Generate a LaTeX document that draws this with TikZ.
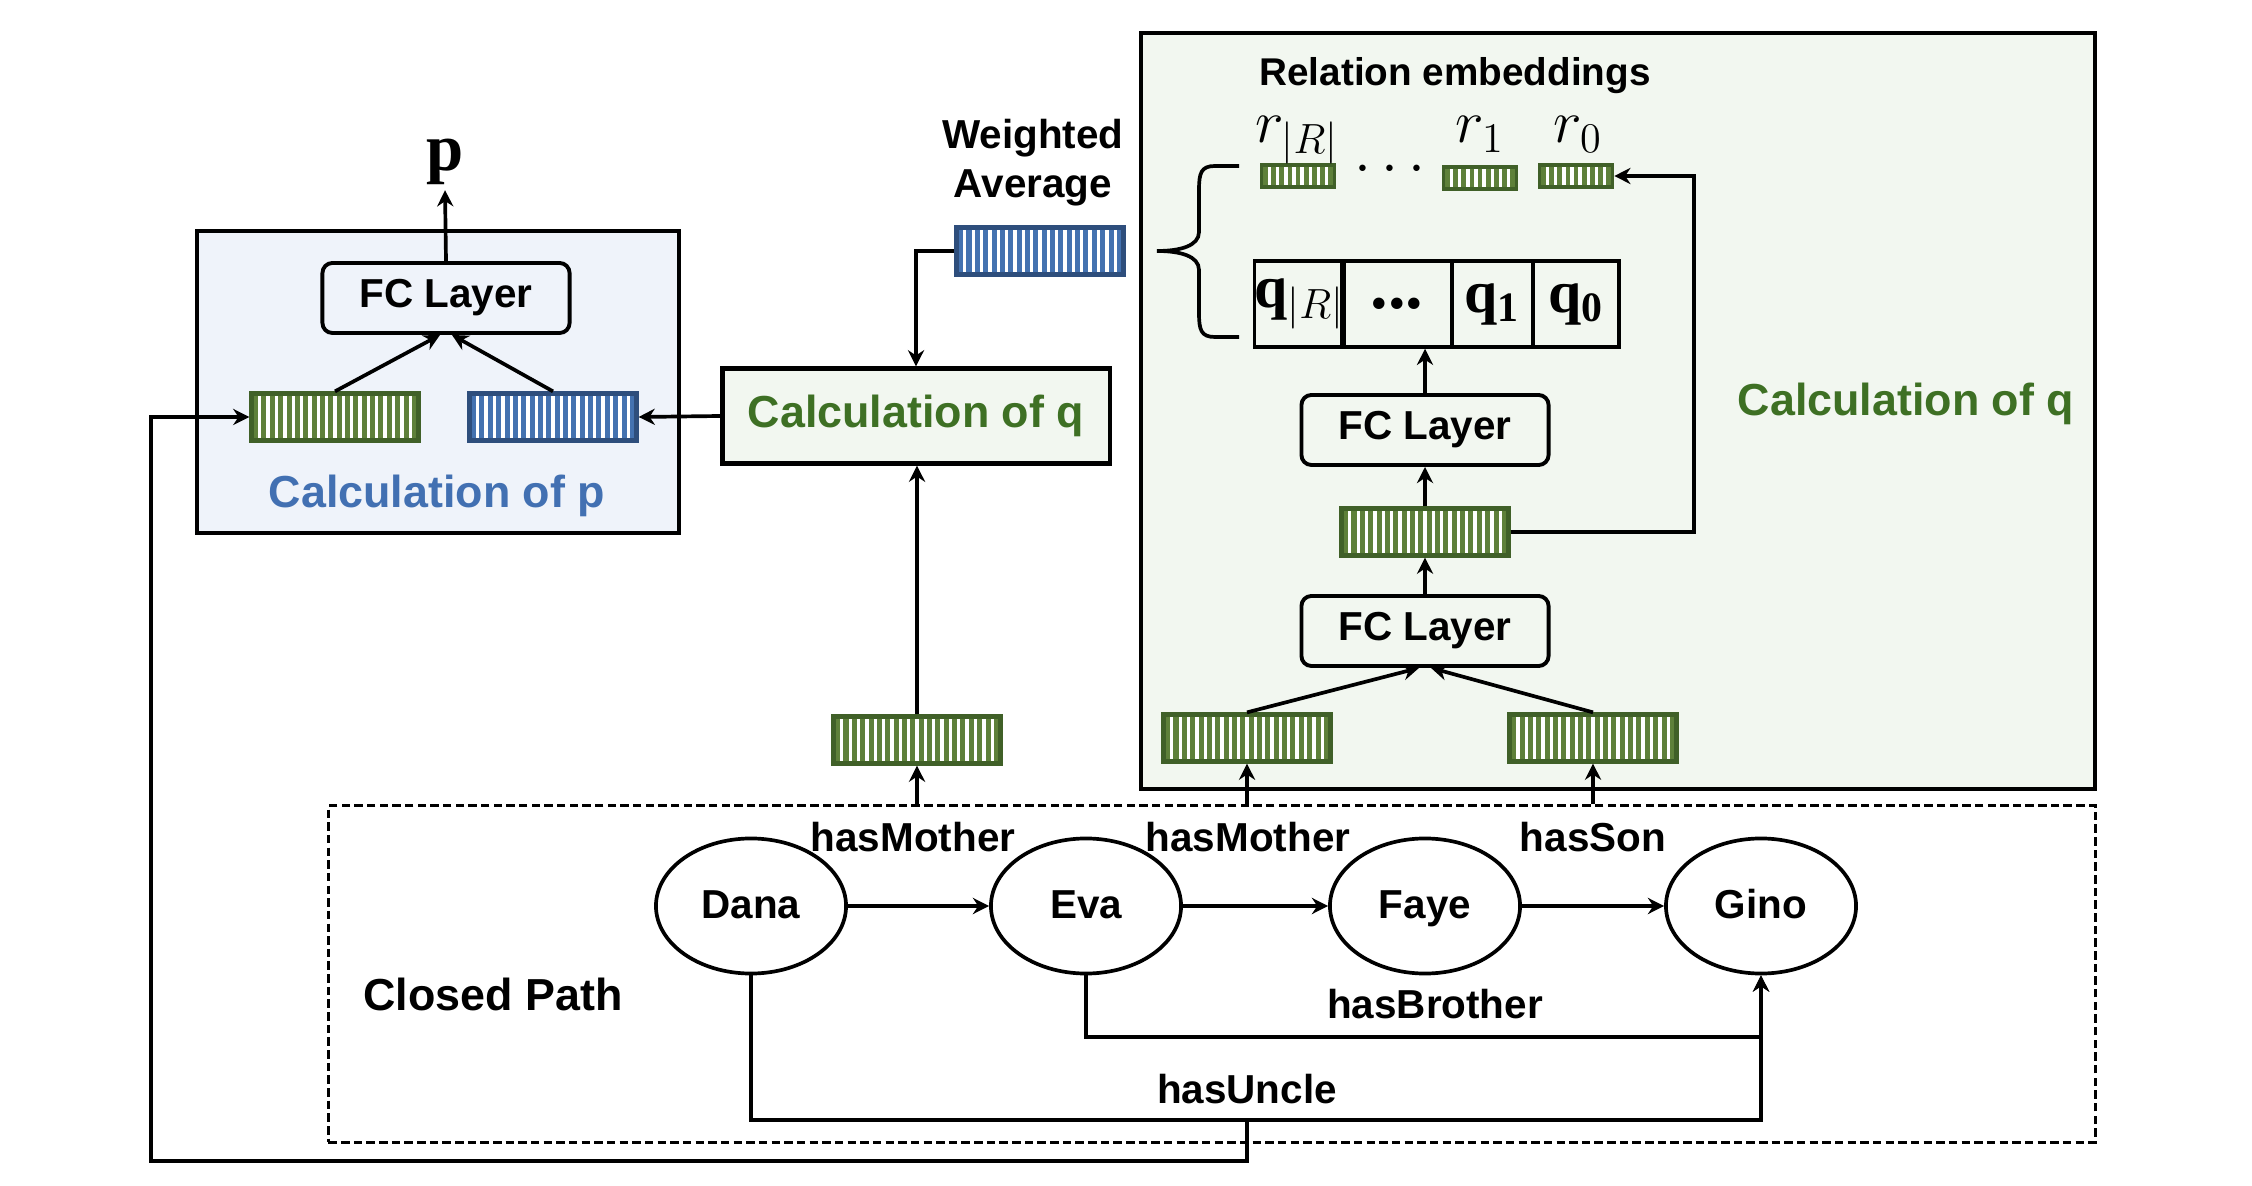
\documentclass[tikz,border=0pt]{standalone}
\usepackage{fontspec}
\setmainfont{Liberation Sans}
\newfontfamily\serifb{Liberation Serif}
\usetikzlibrary{shapes.geometric,arrows.meta,calc}

\definecolor{gfill}{RGB}{94,128,58}
\definecolor{gline}{RGB}{64,96,40}
\definecolor{bfill}{RGB}{68,114,176}
\definecolor{bline}{RGB}{46,78,124}
\definecolor{ptext}{RGB}{66,112,178}
\definecolor{qtext}{RGB}{62,112,36}
\definecolor{pback}{RGB}{239,243,250}
\definecolor{qback}{RGB}{242,247,240}

\tikzset{
  nstripes/.store in=\nstripes, nstripes=19,
  vecbar/.style={line width=1.2pt, inner sep=0pt, minimum width=1.67cm, minimum height=0.47cm,
    path picture={
      \foreach \k [evaluate=\k as \fr using \k/(\nstripes+1)] in {1,...,\nstripes}
        \draw[white, line width=0.95pt]
          ($(path picture bounding box.south west)!\fr!(path picture bounding box.south east)$) --
          ($(path picture bounding box.north west)!\fr!(path picture bounding box.north east)$);
    }},
  gvec/.style={vecbar, draw=gline, fill=gfill},
  bvec/.style={vecbar, draw=bline, fill=bfill},
  rvec/.style={gvec, nstripes=8, minimum width=0.73cm, minimum height=0.22cm, line width=1pt},
  fclayer/.style={draw, rounded corners=0.1cm, line width=1.1pt, minimum width=2.47cm, minimum height=0.70cm},
  person/.style={draw, ellipse, line width=1.05pt, minimum width=1.9cm, minimum height=1.35cm, inner sep=0pt,
    text height=0.72em, text depth=0.02em},
  qcell/.style={draw, line width=1pt, minimum height=0.86cm, inner sep=0pt, font=\serifb\bfseries\fontsize{17}{18}\selectfont},
  bigtxt/.style={font=\bfseries\fontsize{12.75}{15}\selectfont},
}

\begin{document}
\begin{tikzpicture}[x=0.01cm, y=-0.01cm, line width=1.05pt, font=\bfseries\fontsize{11.5}{14}\selectfont, >={Stealth[length=4.6pt,width=4.6pt]}]
	\useasboundingbox (0,0) rectangle (2252,1186);
	%% Boxes
	\node[draw, line width=1.2pt, fill=pback, minimum width=4.82cm, minimum height=3.02cm] (pbox) at (438,382) {};
	\node[draw, line width=1.2pt, fill=qback, minimum width=9.54cm, minimum height=7.56cm] (qbox) at (1618,411) {};
	\node[draw, line width=0.85pt, dash pattern=on 2.4pt off 1.2pt, minimum width=17.66cm, minimum height=3.36cm] (cpath) at (1212,974) {};
	\node[draw, line width=1.2pt, fill=qback, minimum width=3.87cm, minimum height=0.95cm, bigtxt, text=qtext] (calcq) at (916,416) {Calculation of q};
	%% Calculation of p
	\node[fclayer] (fcp) at (446,298) {FC Layer};
	\node[font=\serifb\bfseries\fontsize{19}{20}\selectfont, inner sep=1pt] (pout) at (445,162) {p};
	\node[gvec] (gp) at (335,417) {};
	\node[bvec] (bp) at (553,417) {};
	\node[bigtxt, text=ptext] (calcp) at (437,496) {Calculation of p};
	%% Weighted average
	\node[align=center] (wavg) at (1033,163) {Weighted\\Average};
	\node[bvec] (bw) at (1040,251) {};
	\node[gvec] (gm) at (917,740) {};
	%% Relation embeddings
	\node[font=\bfseries\fontsize{11}{13}\selectfont] (reltxt) at (1455,76) {Relation embeddings};
	\node[rvec] (rR) at (1298,176) {};
	\node[rvec] (r1) at (1480,178) {};
	\node[rvec] (r0) at (1576,176) {};
	\node[font=\fontsize{17}{20}\selectfont] (rdots) at (1390,170) {$\cdots$};
	\node[anchor=base, font=\fontsize{18}{20}\selectfont] (lrR) at (1297,143) {$r_{|R|}$};
	\node[anchor=base, font=\fontsize{18}{20}\selectfont] (lr1) at (1480,143) {$r_1$};
	\node[anchor=base, font=\fontsize{18}{20}\selectfont] (lr0) at (1578,143) {$r_0$};
	\node[qcell, minimum width=0.85cm] (qR) at (1299.5,304) {q$_{|R|}$};
	\node[qcell, minimum width=1.10cm] (qd) at (1397,304) {\fontsize{20}{20}\selectfont ...};
	\node[qcell, minimum width=0.81cm] (q1) at (1492.5,304) {q\textsubscript{1}};
	\node[qcell, minimum width=0.86cm] (q0) at (1576,304) {q\textsubscript{0}};
	\draw[line width=1.05pt] (1239,166) -- (1215,166) .. controls (1201,166) and (1199,173) .. (1199,190) -- (1199,232)
		.. controls (1199,246) and (1180,251) .. (1157,251) .. controls (1180,251) and (1199,256) .. (1199,270)
		-- (1199,313) .. controls (1199,330) and (1201,337) .. (1215,337) -- (1239,337);
	%% Calculation of q
	\node[fclayer] (fcq2) at (1425,430) {FC Layer};
	\node[gvec] (gq) at (1425,532) {};
	\node[fclayer] (fcq1) at (1425,631) {FC Layer};
	\node[gvec] (ga) at (1247,738) {};
	\node[gvec] (gb) at (1593,738) {};
	\node[bigtxt, text=qtext] (calcqr) at (1906,404) {Calculation of q};
	%% Closed path
	\node[person] (dana) at (751,906) {Dana};
	\node[person] (eva) at (1086,906) {Eva};
	\node[person] (faye) at (1425,906) {Faye};
	\node[person] (gino) at (1761,906) {Gino};
	\node[bigtxt] (cplbl) at (493,994) {Closed Path};
	\node (lm1) at (913,837) {hasMother};
	\node (lm2) at (1248,837) {hasMother};
	\node (ls) at (1593,837) {hasSon};
	\node (lb) at (1435,1004) {hasBrother};
	\node (lu) at (1247,1089) {hasUncle};
	\coordinate (brY) at (0,1037);
	\coordinate (unY) at (0,1120);
	\coordinate (fbc) at (151,1161);
	\coordinate (rt) at (1694,176);
	%% Edges
	\draw[->] (dana) -- (eva);
	\draw[->] (eva) -- (faye);
	\draw[->] (faye) -- (gino);
	\draw[->] (eva.south) -- (eva.south |- brY) -| (gino.south);
	\draw[->] (dana.south) -- (dana.south |- unY) -| (gino.south);
	\draw[->] (ga |- unY) |- (fbc) |- (gp.west);
	%% else
	\draw[->] (gm |- cpath.north) -- (gm.south);
	\draw[->] (ga |- cpath.north) -- (ga.south);
	\draw[->] (gb |- cpath.north) -- (gb.south);
	\draw[->] (gm.north) -- (gm.north |- calcq.south);
	\draw[->] (calcq.west) -- (bp.east);
	\draw[->] (bw.west) -| (calcq.north);
	\draw[->] (gp.north) -- ([xshift=-0.06cm]fcp.south);
	\draw[->] (bp.north) -- ([xshift=0.06cm]fcp.south);
	\draw[->] (fcp.north) -- (pout.south);
	\draw[->] (ga.north) -- ([xshift=-0.06cm]fcq1.south);
	\draw[->] (gb.north) -- ([xshift=0.06cm]fcq1.south);
	\draw[->] (fcq1.north) -- (gq.south);
	\draw[->] (gq.north) -- (fcq2.south);
	\draw[->] (fcq2.north) -- (fcq2.north |- qd.south);
	\draw[->] (gq.east) -| (rt) -- (r0.east);
\end{tikzpicture}
\end{document}
